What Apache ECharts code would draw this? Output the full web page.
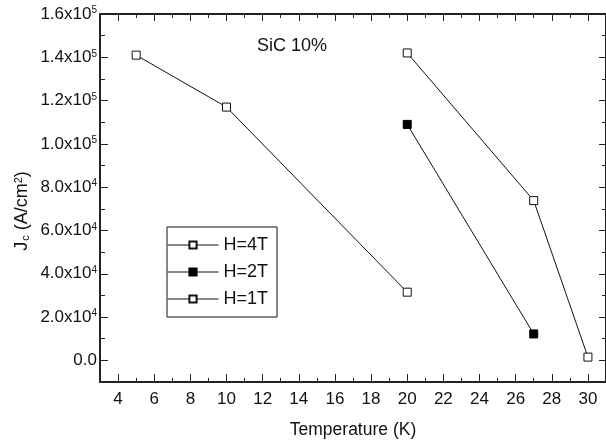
<!DOCTYPE html>
<html>
<head>
<meta charset="utf-8">
<script src="https://cdn.jsdelivr.net/npm/echarts@6/dist/echarts.min.js"></script>
<style>
  html, body { margin: 0; padding: 0; background: #fff; }
  #chart { width: 606px; height: 444px; }
</style>
</head>
<body>
<div id="chart"></div>
<script>
// data
var temp4T = [5, 10, 20];
var jc4T = [141000, 117000, 31500];
var temp2T = [20, 27];
var jc2T = [109000, 12200];
var temp1T = [20, 27, 30];
var jc1T = [142000, 73800, 1500];

var xMajor = [4, 6, 8, 10, 12, 14, 16, 18, 20, 22, 24, 26, 28, 30];
var xMinor = [5, 7, 9, 11, 13, 15, 17, 19, 21, 23, 25, 27, 29];
var yMajor = [0, 20000, 40000, 60000, 80000, 100000, 120000, 140000, 160000];
var yMinor = [10000, 30000, 50000, 70000, 90000, 110000, 130000, 150000];

var FONT = 'Liberation Sans, Arial, sans-serif';

function pairs(xs, ys) {
    return xs.map(function(x, i) { return [x, ys[i]]; });
}

function xAxisDef(pos, ticks, len, main) {
    return {
        type: 'value', position: pos, min: 3, max: 31, gridIndex: 0,
        axisLine: {show: main, onZero: false, lineStyle: {color: '#222', width: 2}},
        axisTick: {show: true, inside: true, length: len, customValues: ticks,
                   lineStyle: {color: '#222', width: 1}},
        axisLabel: {show: main && pos === 'bottom', customValues: xMajor, margin: 9,
                    color: '#111', fontSize: 17, fontFamily: FONT},
        splitLine: {show: false}
    };
}

function yAxisDef(pos, ticks, len, main) {
    return {
        type: 'value', position: pos, min: -10000, max: 160000, gridIndex: 0,
        axisLine: {show: main, onZero: false, lineStyle: {color: '#222', width: 2}},
        axisTick: {show: true, inside: true, length: len, customValues: ticks,
                   lineStyle: {color: '#222', width: 1}},
        axisLabel: {
            show: main && pos === 'left', customValues: yMajor, margin: 3,
            formatter: function(v) {
                if (v === 0) return '{a|0.0}';
                var e = v >= 100000 ? 5 : 4;
                return '{a|' + (v / Math.pow(10, e)).toFixed(1) + 'x10}{s|' + e + '}';
            },
            rich: {
                a: {color: '#111', fontSize: 17, fontFamily: FONT, lineHeight: 17, verticalAlign: 'bottom'},
                s: {color: '#111', fontSize: 10, fontFamily: FONT, lineHeight: 10, verticalAlign: 'top', padding: [0, 0, 14, 0]}
            }
        },
        splitLine: {show: false}
    };
}

var xa = xAxisDef('bottom', xMajor, 8, true);
xa.name = 'Temperature (K)';
xa.nameLocation = 'middle';
xa.nameGap = 39;
xa.nameTextStyle = {color: '#111', fontSize: 17.5, fontFamily: FONT};

var chart = echarts.init(document.getElementById('chart'));
chart.setOption({
    animation: false,
    backgroundColor: '#fff',
    grid: {left: 100, top: 14, width: 508, height: 369},
    xAxis: [
        xa,
        xAxisDef('bottom', xMinor, 4, false),
        xAxisDef('top', xMajor, 7, true),
        xAxisDef('top', xMinor, 4, false)
    ],
    yAxis: [
        yAxisDef('left', yMajor, 8, true),
        yAxisDef('left', yMinor, 5, false),
        yAxisDef('right', yMajor, 7, true),
        yAxisDef('right', yMinor, 4, false)
    ],
    legend: {
        orient: 'vertical', left: 167, top: 227,
        padding: [9, 9, 9, 0],
        itemWidth: 51, itemHeight: 9, itemGap: 9,
        borderColor: '#111', borderWidth: 1,
        lineStyle: {width: 1, color: '#111'},
        textStyle: {color: '#111', fontSize: 18, fontFamily: FONT},
        data: ['H=4T', 'H=2T', 'H=1T']
    },
    graphic: [
        {type: 'text', left: 257, top: 37,
         style: {text: 'SiC 10%', fill: '#111', font: '18px ' + FONT}},
        {type: 'text', x: 22, y: 211, rotation: Math.PI / 2,
         style: {
             text: '{a|J}{b|c}{a| (A/cm}{c|2}{a|)}',
             align: 'center', verticalAlign: 'middle',
             rich: {
                 a: {fill: '#111', fontSize: 18, fontFamily: FONT, lineHeight: 18, verticalAlign: 'middle'},
                 b: {fill: '#111', fontSize: 11, fontFamily: FONT, lineHeight: 11, verticalAlign: 'bottom', padding: [10, 0, 0, 1]},
                 c: {fill: '#111', fontSize: 11, fontFamily: FONT, lineHeight: 11, verticalAlign: 'top', padding: [0, 0, 10, 0]}
             }
         }}
    ],
    series: [
        {name: 'H=4T', type: 'line', data: pairs(temp4T, jc4T), symbol: 'rect', symbolSize: 8,
         lineStyle: {color: '#111', width: 1},
         itemStyle: {color: '#fff', borderColor: '#111', borderWidth: 1}},
        {name: 'H=2T', type: 'line', data: pairs(temp2T, jc2T), symbol: 'rect', symbolSize: 8,
         lineStyle: {color: '#111', width: 1},
         itemStyle: {color: '#000', borderColor: '#000', borderWidth: 1}},
        {name: 'H=1T', type: 'line', data: pairs(temp1T, jc1T), symbol: 'rect', symbolSize: 8,
         lineStyle: {color: '#111', width: 1},
         itemStyle: {color: '#fff', borderColor: '#111', borderWidth: 1}}
    ]
});
</script>
</body>
</html>
